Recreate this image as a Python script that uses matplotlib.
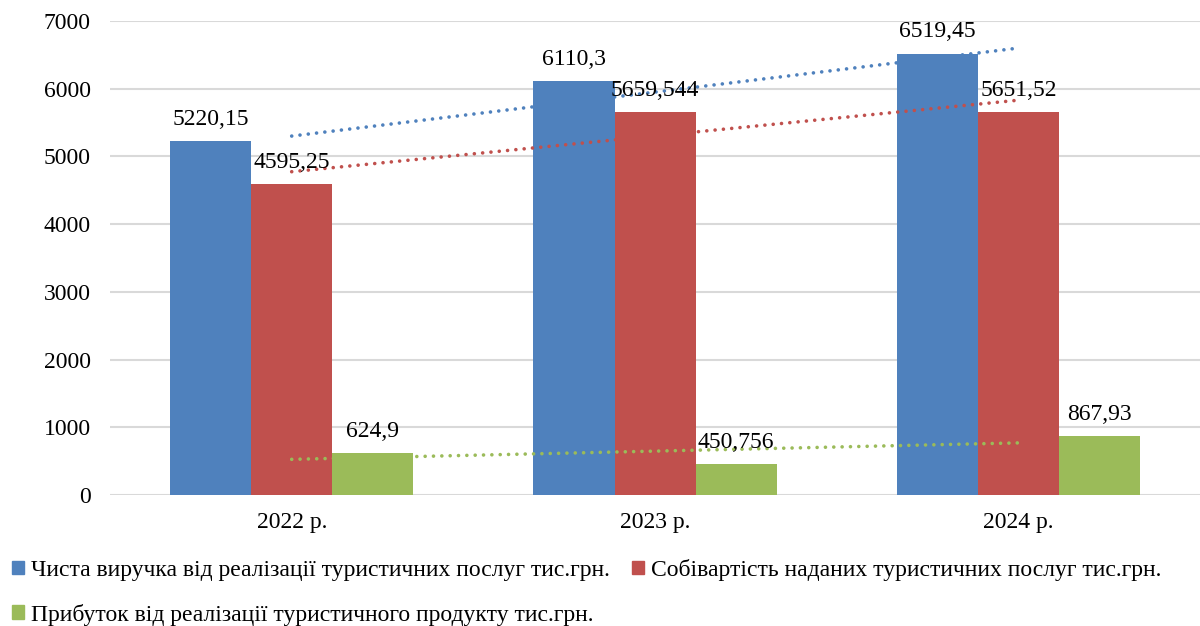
import numpy as np
import matplotlib.pyplot as plt
from matplotlib.patches import Patch

plt.rcParams['font.family'] = ['Liberation Serif', 'DejaVu Serif']

categories = ['2022 р.', '2023 р.', '2024 р.']
series_names = ['Чиста виручка від реалізації туристичних послуг тис.грн.',
                'Собівартість наданих туристичних послуг тис.грн.',
                'Прибуток від реалізації туристичного продукту тис.грн.']
revenue = [5220.15, 6110.3, 6519.45]
cost = [4595.25, 5659.544, 5651.52]
profit = [624.9, 450.756, 867.93]
revenue_labels = ['5220,15', '6110,3', '6519,45']
cost_labels = ['4595,25', '5659,544', '5651,52']
profit_labels = ['624,9', '450,756', '867,93']

colors = ['#4F81BD', '#C0504D', '#9BBB59']

fig = plt.figure(figsize=(12, 6.26), dpi=100)
ax = fig.add_axes([0.0917, 0.2093, 0.9083, 0.7572])

x = np.arange(len(categories))
w = 0.223
all_series = [revenue, cost, profit]
all_labels = [revenue_labels, cost_labels, profit_labels]
for i, (vals, labs) in enumerate(zip(all_series, all_labels)):
    pos = x + (i - 1) * w
    ax.bar(pos, vals, width=w, color=colors[i], zorder=2)
    for p, v, t in zip(pos, vals, labs):
        ax.annotate(t, (p, v), xytext=(0, 8), textcoords='offset points',
                    ha='center', va='bottom', fontsize=17, zorder=5)
    # linear trend line through category centres
    k, b = np.polyfit(x, vals, 1)
    ax.plot(x, k * x + b, color=colors[i], lw=2.6,
            linestyle=(0, (0.01, 2.3)), dash_capstyle='round', zorder=4)

ax.set_xlim(-0.5, 2.5)
ax.set_ylim(0, 7000)
ax.set_yticks(np.arange(0, 7001, 1000))
ax.set_xticks(x)
ax.set_xticklabels(categories)
ax.tick_params(axis='both', length=0, labelsize=17)
ax.tick_params(axis='y', pad=14)
ax.tick_params(axis='x', pad=12)
ax.grid(axis='y', color='#D9D9D9', lw=1.5, zorder=0)
ax.set_axisbelow(True)
for s in ax.spines.values():
    s.set_visible(False)

# legend fills column-wise, so reorder to get rows: [0, 1] / [2]
order = [0, 2, 1]
handles = [Patch(color=colors[j]) for j in order]
names = [series_names[j] for j in order]
fig.legend(handles, names, loc='upper left', bbox_to_anchor=(0.002, 0.122),
           ncol=2, frameon=False, fontsize=17, handlelength=0.5, handleheight=0.5,
           handletextpad=0.3, columnspacing=0.95, labelspacing=0.95, borderaxespad=0)

fig.savefig('out.png', dpi=100)
